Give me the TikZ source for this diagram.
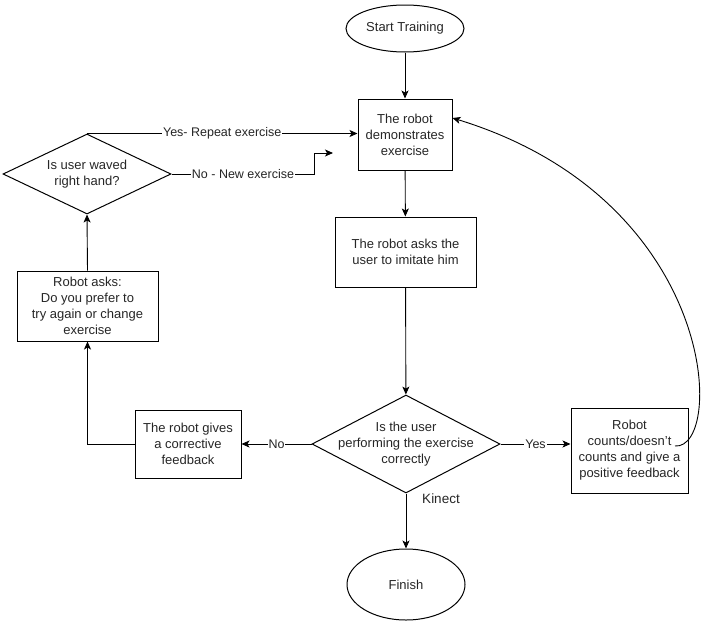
\documentclass[tikz,border=0pt]{standalone}
\usepackage{fontspec}
\setmainfont{Liberation Sans}
\usetikzlibrary{shapes.geometric,arrows.meta}
\begin{document}
\begin{tikzpicture}[x=1pt,y=-1pt,
  every node/.style={font=\fontsize{13}{16}\selectfont, text=black!85},
  box/.style={draw, line width=1pt, inner sep=0pt, align=center},
  dia/.style={draw, diamond, line width=1pt, inner sep=0pt},
  oval/.style={draw, ellipse, line width=1pt, inner sep=0pt},
  lbl/.style={fill=white, inner sep=1pt, font=\fontsize{12.5}{14}\selectfont},
  arr/.style={line width=0.9pt, -{Stealth[length=8pt,width=7pt,inset=2pt]}},
  ln/.style={line width=0.9pt}
]
\useasboundingbox (0,0) rectangle (709,624);

\node[oval, minimum width=118pt, minimum height=47pt] (start) at (405,28.5) {Start Training};
\node[box, minimum width=94pt, minimum height=71pt] (demo) at (405,134.5) {The robot\\demonstrates\\exercise};
\node[box, minimum width=141pt, minimum height=70pt] (asks) at (405.5,252) {The robot asks the\\user to imitate him};
\node[dia, minimum width=188pt, minimum height=98pt] (d1) at (406,444) {};
\node[align=center] (d1t) at (d1.center) {Is the user\\performing the exercise\\correctly};
\node[box, minimum width=117pt, minimum height=85pt] (rb) at (629.5,450.5) {Robot\\counts/doesn’t\\counts and give a\\positive feedback};
\node[box, minimum width=106pt, minimum height=68pt] (corr) at (188,444) {The robot gives\\a corrective\\feedback};
\node[box, minimum width=141pt, minimum height=70pt] (rask) at (87.5,306) {Robot asks:\\Do you prefer to\\try again or change\\exercise};
\node[dia, minimum width=168pt, minimum height=80pt] (d2) at (87,174) {};
\node[align=center] (d2t) at (d2.center) {Is user waved\\right hand?};
\node[oval, minimum width=118pt, minimum height=71pt] (fin) at (406,584.5) {Finish};
\node[font=\fontsize{13.5}{14}\selectfont] (kin) at (441,499) {Kinect};

\coordinate (nx) at (333,153);
\coordinate (cs) at (675,446);
\coordinate (ce) at ([yshift=16.5pt]demo.east);

\draw[arr] (start) -- (demo);
\draw[arr] (demo) -- (asks);
\draw[arr] (asks) -- (d1);
\draw[arr] (d1.east) -- node[lbl]{Yes} (d1.east -| rb.west);
\draw[arr] (d1.west) -- node[lbl]{No} (corr.east);
\draw[arr] (corr.west) -| (rask.south);
\draw[arr] (rask.north) -- (d2.south);
\draw[arr] (d2.north) -- node[lbl]{Yes- Repeat exercise} (d2.north -| demo.west);
\draw[arr] (d2.east) -- node[lbl]{No - New exercise} ++(143,0) |- (nx);
\draw[arr] (d1.south) -- (fin.north);
\draw[arr] (cs) .. controls (725,450) and (720,200) .. (ce);
\end{tikzpicture}
\end{document}
